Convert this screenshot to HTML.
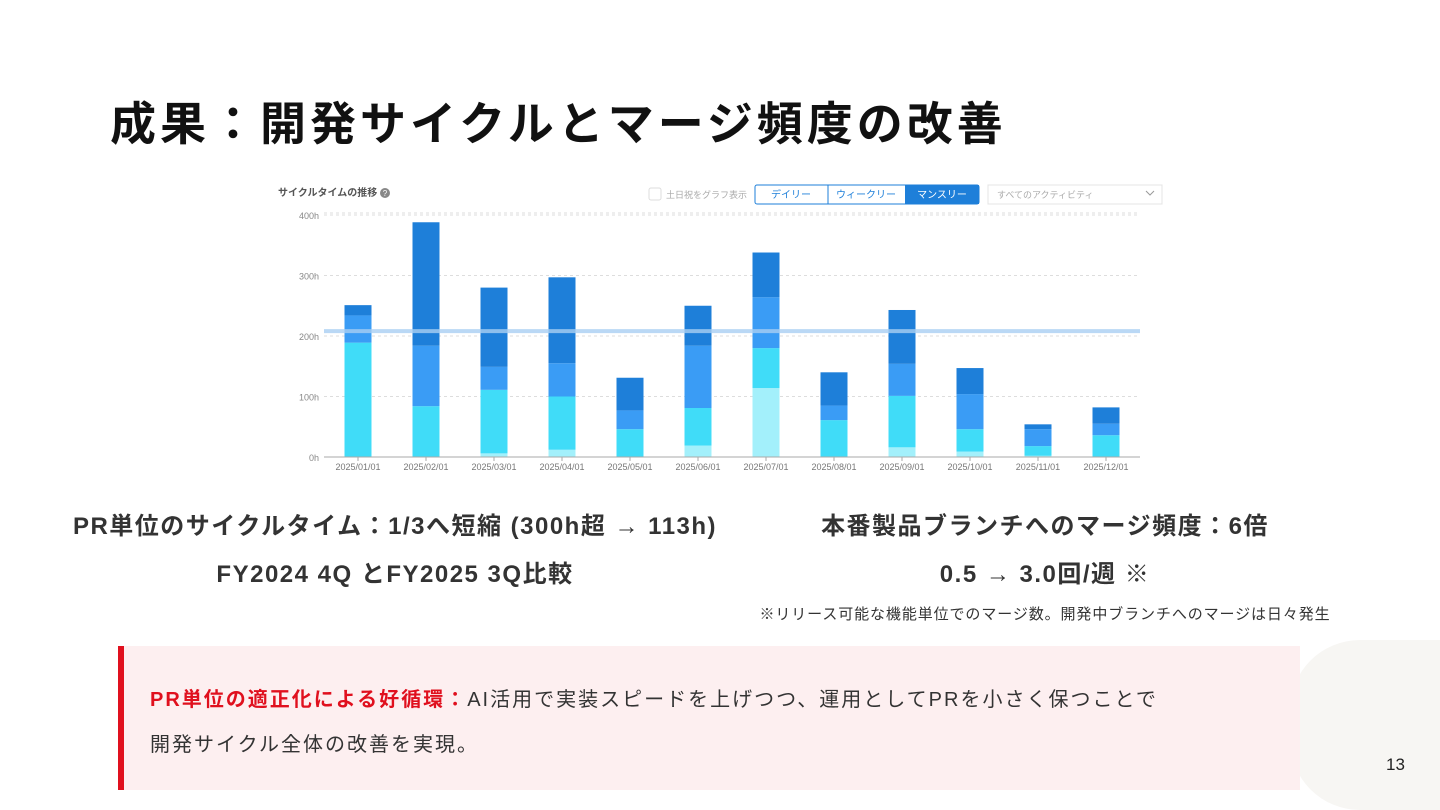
<!DOCTYPE html>
<html><head><meta charset="utf-8">
<style>
body{margin:0;width:1440px;height:810px;background:#fff;position:relative;overflow:hidden;font-family:"Liberation Sans","Noto Sans CJK JP",sans-serif;color:#333}
.abs{position:absolute}
#title{left:110px;top:88px;font-size:46px;font-weight:bold;color:#111;letter-spacing:4px}
.kpi{font-size:24px;font-weight:bold;color:#333;text-align:center;width:700px;letter-spacing:1.5px}
#box{left:118px;top:646px;width:1182px;height:144px;background:#fdeff0;border-left:6px solid #e0101e;box-sizing:border-box}
.bt{font-size:20px;color:#333;left:150px;letter-spacing:2px;white-space:nowrap}
</style></head><body>
<div class="abs" style="left:1290px;top:640px;width:150px;height:170px;border-radius:70px 0 0 70px;background:#f7f6f3"></div>
<div class="abs" id="title">成果：開発サイクルとマージ頻度の改善</div>

<svg class="abs" style="left:0;top:0" width="1440" height="480">
<text x="278" y="196" font-size="10" font-weight="bold" fill="#555">サイクルタイムの推移</text>
<circle cx="385" cy="193" r="5" fill="#888"/>
<text x="385" y="196" font-size="8" fill="#fff" text-anchor="middle">?</text>
<rect x="649" y="188" width="12" height="12" rx="2" fill="#fff" stroke="#ddd"/>
<text x="666" y="198" font-size="9" fill="#aaa">土日祝をグラフ表示</text>
<g>
<rect x="755" y="185" width="224" height="19" rx="2" fill="#fff" stroke="#1e7fd9"/>
<rect x="905" y="185" width="74" height="19" fill="#1e7fd9"/>
<line x1="828" y1="185" x2="828" y2="204" stroke="#1e7fd9"/>
<text x="791" y="198" font-size="10" fill="#1e7fd9" text-anchor="middle">デイリー</text>
<text x="866" y="198" font-size="10" fill="#1e7fd9" text-anchor="middle">ウィークリー</text>
<text x="942" y="198" font-size="10" fill="#fff" text-anchor="middle">マンスリー</text>
</g>
<rect x="988" y="185" width="174" height="19" fill="#fff" stroke="#e4e4e4"/>
<text x="997" y="198" font-size="9" fill="#aaa">すべてのアクティビティ</text>
<path d="M1146 191 l4 4 l4 -4" fill="none" stroke="#999"/>
<g id="grid"></g><g id="bars"></g><g id="xl"></g>
</svg>

<div class="abs kpi" style="left:45px;top:506px">PR単位のサイクルタイム：1/3へ短縮 (300h超 → 113h)</div>
<div class="abs kpi" style="left:45px;top:554px">FY2024 4Q とFY2025 3Q比較</div>
<div class="abs kpi" style="left:695px;top:506px">本番製品ブランチへのマージ頻度：6倍</div>
<div class="abs kpi" style="left:695px;top:554px">0.5 → 3.0回/週 ※</div>
<div class="abs" style="left:695px;width:700px;text-align:center;top:603px;font-size:15px;color:#333;letter-spacing:0.9px">※リリース可能な機能単位でのマージ数。開発中ブランチへのマージは日々発生</div>

<div class="abs" id="box"></div>
<div class="abs bt" style="top:683px"><b style="color:#e0101e">PR単位の適正化による好循環：</b>AI活用で実装スピードを上げつつ、運用としてPRを小さく保つことで</div>
<div class="abs bt" style="top:728px">開発サイクル全体の改善を実現。</div>
<div class="abs" style="left:1386px;top:755px;font-size:17px;color:#222">13</div>

<script>
const months=["2025/01/01","2025/02/01","2025/03/01","2025/04/01","2025/05/01","2025/06/01","2025/07/01","2025/08/01","2025/09/01","2025/10/01","2025/11/01","2025/12/01"];
const lightVals=[0,0,6,12,0,19,114,0,16,9,2,0];
const cyanVals=[189,84,105,88,46,62,66,61,85,37,16,36];
const blueVals=[45,100,38,55,31,103,84,24,53,58,28,19];
const darkVals=[17,204,131,142,54,66,74,55,89,43,8,27];
const yTicks=[0,100,200,300,400];
const yTickLabels=["0h","100h","200h","300h","400h"];
const averageValue=208;
const NS="http://www.w3.org/2000/svg";
const y=v=>457-v*0.605;
const x=i=>358+i*68;
function mk(t,a,p){const e=document.createElementNS(NS,t);for(const k in a)e.setAttribute(k,a[k]);p.appendChild(e);return e;}
const grid=document.getElementById('grid'),bars=document.getElementById('bars'),xl=document.getElementById('xl');
yTicks.forEach((t,i)=>{
 if(t>0){const l=mk('line',{x1:324,x2:1140,y1:y(t),y2:y(t),stroke:'#ddd','stroke-dasharray':'3,3'},grid);
 
 }
 const tx=mk('text',{x:319,y:y(t)+4,'font-size':9,fill:'#888','text-anchor':'end'},grid);tx.textContent=yTickLabels[i];
 
 
});
mk('line',{x1:324,x2:1140,y1:213,y2:213,stroke:'#ddd','stroke-dasharray':'3,3'},grid);
const series=[[lightVals,'#a3f0fb'],[cyanVals,'#40dcf8'],[blueVals,'#3a9cf5'],[darkVals,'#1e7fd9']];
months.forEach((m,i)=>{
 let acc=0;
 series.forEach(([vals,c])=>{
  const v=vals[i];if(v<=0)return;
  const r=mk('rect',{x:x(i)-13.5,y:y(acc+v),width:27,height:v*0.605,fill:c},bars);
  
  
  acc+=v;
 });
 const t=mk('text',{x:x(i),y:470,'font-size':9,fill:'#777','text-anchor':'middle'},xl);t.textContent=m;
 
 
 mk('line',{x1:x(i),x2:x(i),y1:457,y2:461,stroke:'#aaa'},xl);
});
const avg=mk('line',{x1:324,x2:1140,y1:y(averageValue),y2:y(averageValue),stroke:'#a9cff3','stroke-width':4,opacity:0.8},bars);


mk('line',{x1:324,x2:1140,y1:457,y2:457,stroke:'#aaa'},xl);
</script>
</body></html>
